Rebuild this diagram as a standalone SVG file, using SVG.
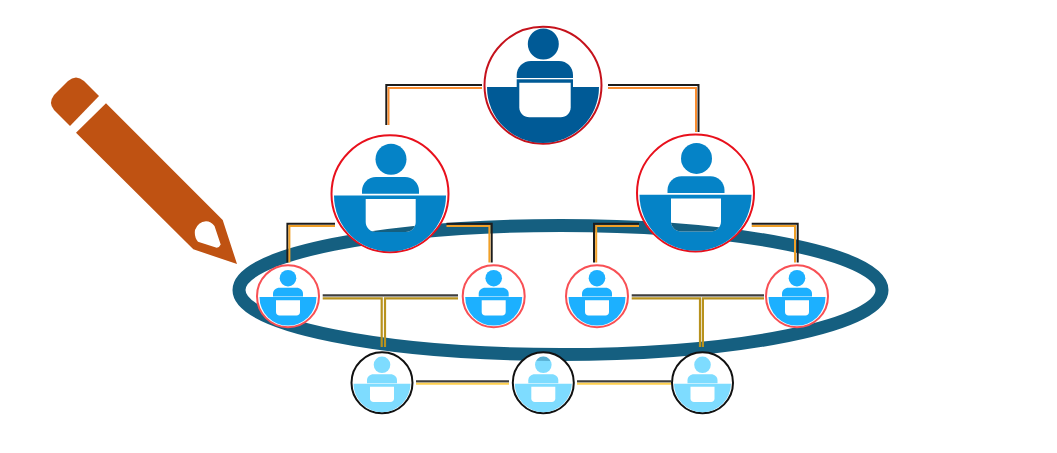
<svg xmlns="http://www.w3.org/2000/svg" width="1057" height="453" viewBox="0 0 1057 453">
<style>
.ring{fill:#fff}
.lap{fill:#fff}
.k{fill:none;stroke:#1c1c1c;stroke-width:2}
.o{fill:none;stroke:#f0a028;stroke-width:2}
.t{fill:none;stroke:#f98d30;stroke-width:2}
.g{fill:none;stroke:#b8921e;stroke-width:2.2}
.y{fill:none;stroke:#ffd04e;stroke-width:2}
.h{fill:none;stroke:#3e3e3e;stroke-width:2.2}
.band{fill:none;stroke:#155f80;stroke-width:13}
</style>
<defs>
<g id="icon-top">
<circle cx="0.3" cy="-41.3" r="15.5"/>
<path d="M-26.3-7.3V-10.3C-26.3-18-20-24.3-12-24.3H16C24-24.3 30-18 30-10.3V-7.3Z"/>
<rect x="-26.3" y="-6" width="56.3" height="9"/>
<path d="M-56 1.7H56A56 56 0 0 1-56 1.7Z"/>
<path class="lap" d="M-23.7-2.6H27.7V22C27.7 28 23 32 17.7 32H-13.7C-19 32-23.7 28-23.7 22Z"/>
</g>
<g id="icon-mid">
<circle cx="1" cy="-34.6" r="15.5"/>
<path d="M-28 0V-3C-28-10.5-21.5-16.7-14-16.7H15C22.5-16.7 29-10.5 29-3V0Z"/>
<path d="M-56 1.8H56A56 56 0 0 1-56 1.8Z"/>
</g>
<g id="icon-small">
<circle cx="0" cy="-18" r="8.3"/>
<path d="M-15 0.4V-2.5C-15-6-12-8.5-8.5-8.5H8.5C12-8.5 15-6 15-2.5V0.4Z"/>
<path d="M-28.5 0.9H28.5A28.5 28.5 0 0 1-28.5 0.9Z"/>
<path class="lap" d="M-12 4H12V15.8C12 18 10.5 19.3 8.5 19.3H-8.5C-10.5 19.3-12 18-12 15.8Z"/>
</g>
<path id="lap-mid" d="M0 0H50V23C50 29 45 33 40 33H10C5 33 0 29 0 23Z"/>
<clipPath id="lapL"><use href="#lap-mid" transform="translate(365.7 199)"/></clipPath>
<clipPath id="lapR"><use href="#lap-mid" transform="translate(671 198.5)"/></clipPath>
<clipPath id="headB"><circle cx="543.3" cy="364.8" r="8.3"/></clipPath>
<ellipse id="band-shape" cx="560.5" cy="290" rx="321.5" ry="64.5"/>
</defs>

<g id="ellipse"><use href="#band-shape" class="band"/></g>

<g id="connectors">
<path class="k" d="M482 84.9H386.3V125"/>
<path class="t" d="M482 88H388.5V125"/>
<path class="k" d="M608 84.9H698.5V132"/>
<path class="t" d="M608 88H696V132"/>
<path class="k" d="M335 223.7H287.4V262.5"/>
<path class="o" d="M335 225.9H289.4V262.5"/>
<path class="k" d="M446.5 223.7H491.7V262.5"/>
<path class="o" d="M446.5 225.9H489.4V262.5"/>
<path class="k" d="M639 223.7H594V262.5"/>
<path class="o" d="M639 225.9H596.2V262.5"/>
<path class="k" d="M751.7 223.7H797.7V262.5"/>
<path class="o" d="M751.7 225.9H795V262.5"/>
<path class="h" d="M322.7 295.4H458"/>
<path class="g" d="M322.7 298.3H381.7V347M385 347V298.3H458"/>
<path class="h" d="M631.7 295.4H764"/>
<path class="g" d="M631.7 298.3H700V347M702.9 347V298.3H764"/>
<path class="h" d="M416 381.3H509M577 381.3H671"/>
<path class="y" d="M416 383.8H509M577 383.8H671"/>
</g>

<g id="pencil" fill="#bf5212">
<path d="M99 96L84 81Q76 74 68 81L54 95Q48 103 54 110L70 126Z"/>
<path fill-rule="evenodd" d="M106 103.3L222.7 220L237 264L193.3 249.3L76 132.7ZM198 241.7L216.7 247.7Q219.5 247.5 220.7 244.5L214.5 226Q211 221.5 206 221.3Q198 222 195 230Q194 237 198 241.7Z"/>
</g>

<g id="node-top" fill="#005a96">
<circle class="ring" cx="543" cy="85.3" r="58.5" stroke="#c5121c" stroke-width="2"/>
<use href="#icon-top" transform="translate(543 85.3)"/>
</g>
<g id="node-mid-left" fill="#0583c7">
<circle class="ring" cx="390" cy="193.8" r="58.5" stroke="#e8101c" stroke-width="2"/>
<use href="#icon-mid" transform="translate(390 193.8)"/>
<use href="#lap-mid" class="lap" transform="translate(365.7 199)"/>
<g clip-path="url(#lapL)"><use href="#band-shape" class="band"/></g>
</g>
<g id="node-mid-right" fill="#0583c7">
<circle class="ring" cx="695.5" cy="193" r="58.5" stroke="#e8101c" stroke-width="2"/>
<use href="#icon-mid" transform="translate(695.5 193)"/>
<use href="#lap-mid" class="lap" transform="translate(671 198.5)"/>
<g clip-path="url(#lapR)"><use href="#band-shape" class="band"/></g>
</g>
<g id="node-s1" fill="#1cb0ff">
<circle class="ring" cx="288" cy="296.2" r="31" stroke="#f85055" stroke-width="2"/>
<use href="#icon-small" transform="translate(288 296.2)"/>
</g>
<g id="node-s2" fill="#1cb0ff">
<circle class="ring" cx="493.7" cy="296.2" r="31" stroke="#f85055" stroke-width="2"/>
<use href="#icon-small" transform="translate(493.7 296.2)"/>
</g>
<g id="node-s3" fill="#1cb0ff">
<circle class="ring" cx="597" cy="296.2" r="31" stroke="#f85055" stroke-width="2"/>
<use href="#icon-small" transform="translate(597 296.2)"/>
</g>
<g id="node-s4" fill="#1cb0ff">
<circle class="ring" cx="797" cy="296.2" r="31" stroke="#f85055" stroke-width="2"/>
<use href="#icon-small" transform="translate(797 296.2)"/>
</g>
<g id="node-b1" fill="#7edcff">
<circle class="ring" cx="382" cy="382.8" r="30.5" stroke="#111" stroke-width="2"/>
<use href="#icon-small" transform="translate(382 382.8)"/>
</g>
<g id="node-b2" fill="#7edcff">
<circle class="ring" cx="543.3" cy="382.8" r="30.5" stroke="#111" stroke-width="2"/>
<use href="#icon-small" transform="translate(543.3 382.8)"/>
<g clip-path="url(#headB)" opacity="0.35"><use href="#band-shape" class="band"/></g>
</g>
<g id="node-b3" fill="#7edcff">
<circle class="ring" cx="702.5" cy="382.8" r="30.5" stroke="#111" stroke-width="2"/>
<use href="#icon-small" transform="translate(702.5 382.8)"/>
</g>
</svg>
